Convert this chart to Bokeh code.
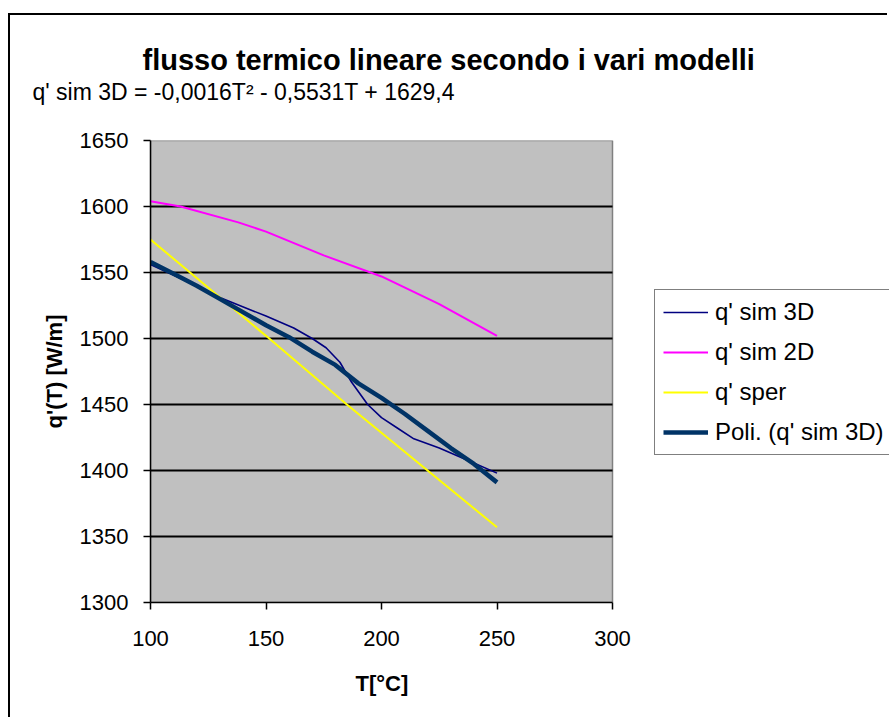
from bokeh.plotting import figure
from bokeh.models import Range1d, FixedTicker, Legend, LegendItem, Title
from bokeh.embed import file_html
from bokeh.resources import INLINE

# ---- data ----
T_sim3d = [100, 115, 130, 150, 162, 170, 176, 182, 187, 194, 200, 207, 214, 225, 237, 250]
Q_sim3d = [1556, 1544, 1531, 1517, 1508, 1500, 1493, 1482, 1467, 1450, 1440, 1432, 1424, 1417, 1408, 1398]

T_sim2d = [100, 113, 138, 150, 175, 200, 225, 250]
Q_sim2d = [1604, 1600, 1588, 1581, 1563, 1547, 1526, 1502]

T_sper = [100, 150, 185, 250]
Q_sper = [1575, 1502, 1450, 1357]

T_poli = [100, 110, 120, 130, 140, 150, 160, 170, 180, 190, 200, 210, 220, 230, 240, 250]
Q_poli = [1558, 1549, 1540, 1530, 1520, 1510, 1501, 1490, 1480, 1466, 1455, 1443, 1430, 1417, 1405, 1391]

x_ticks = [100, 150, 200, 250, 300]
y_ticks = [1300, 1350, 1400, 1450, 1500, 1550, 1600, 1650]
grid_ticks = [1350, 1400, 1450, 1500, 1550, 1600]

labels = ["q' sim 3D", "q' sim 2D", "q' sper", "Poli. (q' sim 3D)"]
title_text = "flusso termico lineare secondo i vari modelli"
eq_text = "q' sim 3D = -0,0016T\u00b2 - 0,5531T + 1629,4"
x_title = "T[°C]"
y_title = "q'(T) [W/m]"

FONT = "Liberation Sans"

# layout (pixels)
W, H = 879, 704
LEFT, TOP, BOTTOM = 140, 125, 117
PLOT_W = 462                      # width of the grey plot area
frame_w = W - LEFT
x0, x1 = x_ticks[0], x_ticks[-1]
x_end = x0 + (x1 - x0) * frame_w / PLOT_W

p = figure(width=W, height=H, output_backend="svg", toolbar_location=None,
           x_range=Range1d(x0, x_end), y_range=Range1d(y_ticks[0], y_ticks[-1]),
           min_border_left=LEFT, min_border_right=0, min_border_top=TOP, min_border_bottom=BOTTOM)
p.styles = {"border-left": "2px solid black", "border-top": "2px solid black",
            "margin-left": "8px", "margin-top": "13px"}

p.background_fill_color = "white"
p.border_fill_color = "white"
p.outline_line_color = None

# grey plot area
p.quad(left=[x0], right=[x1], bottom=[y_ticks[0]], top=[y_ticks[-1]],
       fill_color="#C0C0C0", line_color="#808080", line_width=1.5, level="image")

# horizontal grid lines limited to the plot area
p.xgrid.visible = False
p.ygrid.visible = False
n = len(grid_ticks)
p.segment(x0=[x0] * n, y0=grid_ticks, x1=[x1] * n, y1=grid_ticks,
          line_color="black", line_width=2, level="underlay")

p.xaxis.ticker = FixedTicker(ticks=x_ticks)
p.yaxis.ticker = FixedTicker(ticks=y_ticks)
p.xaxis.bounds = (x0, x1)
for ax in (p.xaxis[0], p.yaxis[0]):
    ax.axis_line_color = "black"
    ax.axis_line_width = 1.5
    ax.major_tick_line_color = "black"
    ax.major_tick_line_width = 1.5
    ax.major_tick_in = 0
    ax.major_tick_out = 7
    ax.minor_tick_line_color = None
    ax.major_label_text_font = FONT
    ax.major_label_text_font_size = "22px"
    ax.major_label_text_color = "black"
    ax.axis_label_text_font = FONT
    ax.axis_label_text_font_size = "22px"
    ax.axis_label_text_font_style = "bold"
    ax.axis_label_text_color = "black"

p.yaxis.axis_label = y_title
p.xaxis.major_label_standoff = 21
p.yaxis.major_label_standoff = 15
p.yaxis.axis_label_standoff = 10

r1 = p.line(T_sim3d, Q_sim3d, line_color="#000080", line_width=1.6)
r2 = p.line(T_sim2d, Q_sim2d, line_color="#FF00FF", line_width=2)
r3 = p.line(T_sper, Q_sper, line_color="#FFFF00", line_width=2)
r4 = p.line(T_poli, Q_poli, line_color="#003366", line_width=4.5)

legend = Legend(items=[LegendItem(label=l, renderers=[r]) for l, r in zip(labels, [r1, r2, r3, r4])],
                location=(504, 147), orientation="vertical")
legend.label_text_font = FONT
legend.label_text_font_size = "24px"
legend.label_text_color = "black"
legend.glyph_width = 45
legend.glyph_height = 24
legend.label_height = 24
legend.spacing = 12
legend.padding = 8
legend.margin = 0
legend.label_standoff = 7
legend.border_line_color = "black"
legend.border_line_width = 1.5
legend.background_fill_color = "white"
legend.background_fill_alpha = 1
p.add_layout(legend, "center")

# titles above the plot (stacked from the frame upwards)
spacer = Title(text=" ", align="left", standoff=31, text_font=FONT, text_font_size="2px")
sub = Title(text=eq_text, align="left", offset=-118, standoff=2,
            text_font=FONT, text_font_size="23px", text_font_style="normal", text_color="black")
ttl = Title(text=title_text, align="left", offset=-8, standoff=0,
            text_font=FONT, text_font_size="29px", text_font_style="bold", text_color="black")
p.add_layout(spacer, "above")
p.add_layout(sub, "above")
p.add_layout(ttl, "above")

# x axis title below the axis, centred under the grey area
xt = Title(text=x_title, align="left", offset=205, standoff=44, vertical_align="top",
           text_font=FONT, text_font_size="22px", text_font_style="bold", text_color="black")
p.add_layout(xt, "below")

open("out.html", "w").write(file_html(p, INLINE))
